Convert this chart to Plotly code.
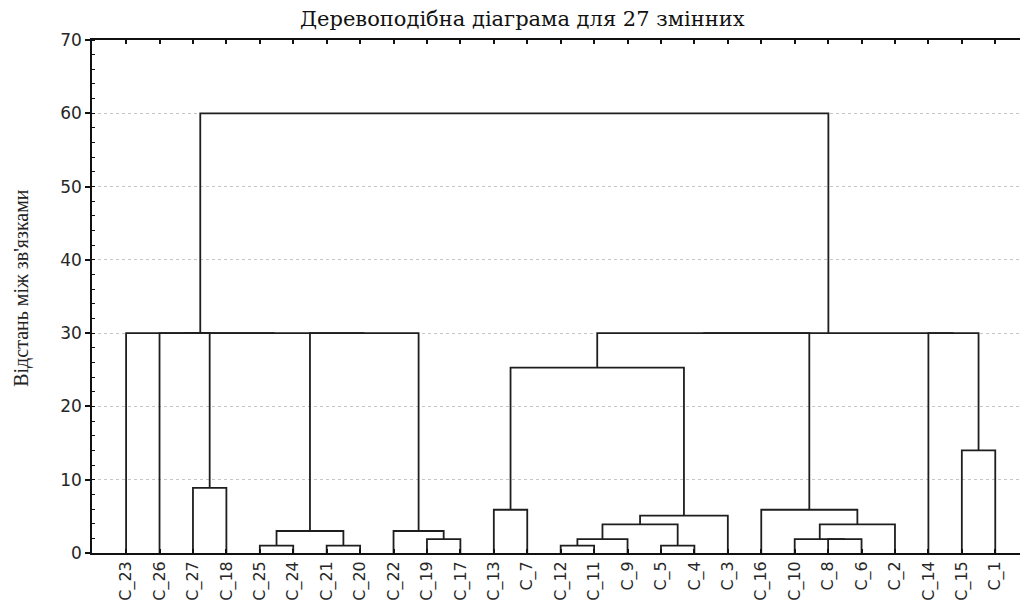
import plotly.graph_objects as go

# leaf order along the horizontal axis
leaves = ["C_23", "C_26", "C_27", "C_18", "C_25", "C_24", "C_21", "C_20", "C_22",
          "C_19", "C_17", "C_13", "C_7", "C_12", "C_11", "C_9", "C_5", "C_4", "C_3",
          "C_16", "C_10", "C_8", "C_6", "C_2", "C_14", "C_15", "C_1"]

# agglomeration schedule: step i joins merge_left[i] and merge_right[i]
# at linkage distance merge_dist[i]; "G<k>" refers to the cluster made at step k
merge_left = ["C_25", "C_21", "G0", "C_19", "C_22", "C_27", "C_13", "C_12", "G7",
              "C_5", "G8", "G10", "G6", "C_8", "C_10", "G14", "C_16", "C_15",
              "C_14", "G12", "G19", "C_26", "G2", "G21", "C_23", "G24"]
merge_right = ["C_24", "C_20", "G1", "C_17", "G3", "C_18", "C_7", "C_11", "C_9",
               "C_4", "G9", "C_3", "G11", "C_6", "G13", "C_2", "G15", "C_1",
               "G17", "G16", "G18", "G5", "G4", "G22", "G23", "G20"]
merge_dist = [1.0, 1.0, 3.0, 1.9, 3.0, 8.9, 5.9, 1.0, 1.9,
              1.0, 3.9, 5.1, 25.3, 1.9, 1.9, 3.9, 5.9, 14.0,
              30.0, 30.0, 30.0, 30.0, 30.0, 30.0, 30.0, 60.0]

title_text = "Деревоподібна діаграма для 27 змінних"
y_title_text = "Відстань між зв'язками"

# position (x) and height of every leaf / cluster
pos = {name: (float(i), 0.0) for i, name in enumerate(leaves)}
xs, ys = [], []
for k, (a, b, d) in enumerate(zip(merge_left, merge_right, merge_dist)):
    xa, ha = pos[a]
    xb, hb = pos[b]
    xs += [xa, xa, xb, xb, None]
    ys += [ha, d, d, hb, None]
    pos[f"G{k}"] = ((xa + xb) / 2.0, d)

fig = go.Figure()
fig.add_trace(go.Scatter(
    x=xs, y=ys, mode="lines",
    line=dict(color="#1e1e1e", width=1.8),
    hoverinfo="skip", showlegend=False,
))

axis_col = "#111111"
fig.update_layout(
    width=1020, height=605,
    margin=dict(l=92, r=0, t=40, b=52),
    paper_bgcolor="white", plot_bgcolor="white",
    xaxis=dict(
        range=[-1.02, 26.74],
        tickmode="array",
        tickvals=list(range(len(leaves))),
        ticktext=leaves,
        tickangle=-90,
        ticks="inside", ticklen=4, tickwidth=1.5, tickcolor=axis_col,
        showline=True, linecolor=axis_col, linewidth=1.6, mirror="ticks",
        showgrid=False, zeroline=False,
        tickfont=dict(family="DejaVu Sans", size=16, color="#262626"),
    ),
    yaxis=dict(
        range=[0, 70], dtick=10, tick0=0,
        ticks="outside", ticklen=5, tickwidth=1.5, tickcolor=axis_col,
        showline=True, linecolor=axis_col, linewidth=1.6,
        showgrid=True, gridcolor="#c6c6c6", gridwidth=1, griddash="dot",
        zeroline=False,
        minor=dict(dtick=2, ticks="inside", ticklen=3, tickwidth=1.2,
                   tickcolor=axis_col, showgrid=False),
        tickfont=dict(family="DejaVu Sans", size=17, color="#262626"),
    ),
    annotations=[
        dict(text=title_text, xref="paper", yref="paper",
             x=0.464, y=1.041, xanchor="center", yanchor="middle",
             showarrow=False,
             font=dict(family="DejaVu Serif", size=21, color="#111111")),
        dict(text=y_title_text, xref="paper", yref="paper",
             x=-0.0754, y=0.517, xanchor="center", yanchor="middle",
             textangle=-90, showarrow=False,
             font=dict(family="Liberation Serif", size=20, color="#222222")),
    ],
)

fig.write_html("out.html")
